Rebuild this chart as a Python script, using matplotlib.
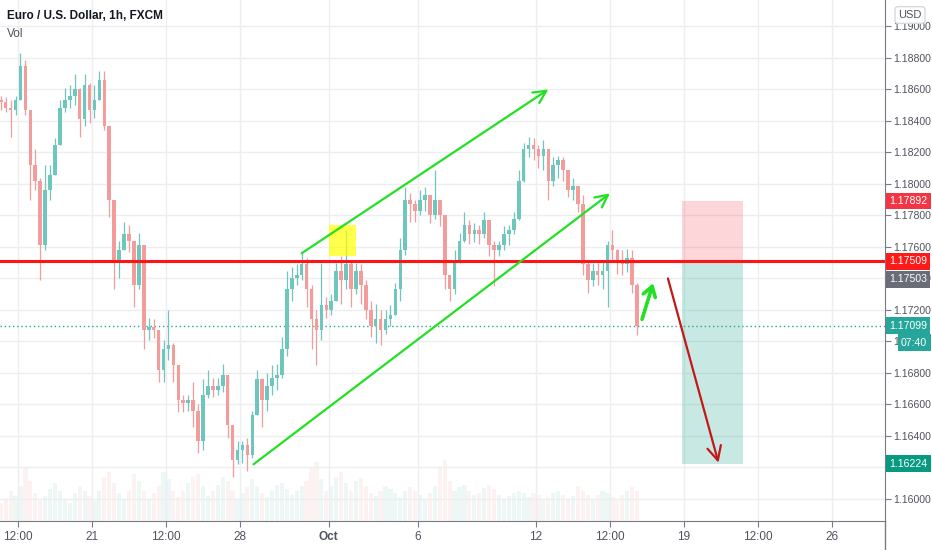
import numpy as np
import matplotlib.pyplot as plt
import matplotlib.transforms as mtransforms
from matplotlib.patches import Rectangle
from matplotlib.lines import Line2D
from matplotlib.ticker import FormatStrFormatter

plt.rcParams['font.family'] = ['Liberation Sans', 'DejaVu Sans']

# EUR/USD, velas de 4h leidas a ojo del grafico de 1h
# eje x en horas de mercado, hora 0 = lunes 21 sep 00:00
start_hour = -76
bar_hours = 4
first_open = 1.1853

highs = [1.1856, 1.1855, 1.1853, 1.1856, 1.1883, 1.1879, 1.1847, 1.1822, 1.1804, 1.1812,
         1.1812, 1.1829, 1.1853, 1.1861, 1.1863, 1.1870, 1.1861, 1.1870, 1.1864, 1.1863,
         1.1872, 1.1872, 1.1837, 1.1790, 1.1764, 1.1776, 1.1774, 1.1764, 1.1769, 1.1761,
         1.1715, 1.1714, 1.1707, 1.1701, 1.1720, 1.1699, 1.1685, 1.1666, 1.1666, 1.1674,
         1.1660, 1.1676, 1.1682, 1.1677, 1.1677, 1.1686, 1.1679, 1.1647, 1.1637, 1.1637,
         1.1639, 1.1656, 1.1682, 1.1677, 1.1680, 1.1685, 1.1686, 1.1703, 1.1745, 1.1747,
         1.1749, 1.1756, 1.1753, 1.1736, 1.1720, 1.1750, 1.1728, 1.1730, 1.1750, 1.1754,
         1.1771, 1.1752, 1.1750, 1.1749, 1.1739, 1.1726, 1.1724, 1.1720, 1.1720, 1.1723,
         1.1737, 1.1766, 1.1798, 1.1794, 1.1790, 1.1796, 1.1798, 1.1793, 1.1809, 1.1790,
         1.1780, 1.1742, 1.1758, 1.1769, 1.1782, 1.1777, 1.1775, 1.1774, 1.1782, 1.1777,
         1.1764, 1.1764, 1.1773, 1.1774, 1.1782, 1.1809, 1.1826, 1.1830, 1.1829, 1.1825,
         1.1828, 1.1822, 1.1817, 1.1818, 1.1817, 1.1809, 1.1804, 1.1799, 1.1793, 1.1752,
         1.1750, 1.1750, 1.1752, 1.1764, 1.1771, 1.1759, 1.1758, 1.1759, 1.1758, 1.1737]

lows = [1.1847, 1.1846, 1.1830, 1.1844, 1.1853, 1.1844, 1.1790, 1.1796, 1.1739, 1.1758,
        1.1790, 1.1806, 1.1825, 1.1846, 1.1848, 1.1850, 1.1830, 1.1837, 1.1839, 1.1842,
        1.1853, 1.1834, 1.1779, 1.1733, 1.1740, 1.1758, 1.1757, 1.1722, 1.1733, 1.1695,
        1.1701, 1.1702, 1.1674, 1.1674, 1.1688, 1.1674, 1.1655, 1.1655, 1.1656, 1.1646,
        1.1629, 1.1631, 1.1664, 1.1665, 1.1666, 1.1668, 1.1639, 1.1614, 1.1622, 1.1623,
        1.1618, 1.1626, 1.1653, 1.1646, 1.1656, 1.1666, 1.1669, 1.1677, 1.1691, 1.1726,
        1.1736, 1.1739, 1.1722, 1.1695, 1.1685, 1.1701, 1.1715, 1.1717, 1.1726, 1.1724,
        1.1733, 1.1722, 1.1730, 1.1724, 1.1714, 1.1703, 1.1699, 1.1698, 1.1705, 1.1710,
        1.1717, 1.1726, 1.1755, 1.1776, 1.1776, 1.1780, 1.1783, 1.1775, 1.1778, 1.1773,
        1.1733, 1.1726, 1.1730, 1.1750, 1.1763, 1.1762, 1.1763, 1.1762, 1.1766, 1.1754,
        1.1735, 1.1754, 1.1758, 1.1761, 1.1768, 1.1777, 1.1801, 1.1817, 1.1815, 1.1810,
        1.1809, 1.1790, 1.1799, 1.1804, 1.1802, 1.1792, 1.1790, 1.1782, 1.1742, 1.1731,
        1.1735, 1.1736, 1.1733, 1.1722, 1.1752, 1.1743, 1.1742, 1.1744, 1.1731, 1.1704]

closes = [1.1852, 1.1848, 1.1847, 1.1853, 1.1875, 1.1847, 1.1812, 1.1802, 1.1761, 1.1796,
          1.1806, 1.1825, 1.1848, 1.1853, 1.1856, 1.1860, 1.1841, 1.1863, 1.1847, 1.1853,
          1.1866, 1.1837, 1.1790, 1.1752, 1.1758, 1.1768, 1.1764, 1.1736, 1.1761, 1.1707,
          1.1709, 1.1707, 1.1682, 1.1695, 1.1698, 1.1685, 1.1663, 1.1661, 1.1663, 1.1656,
          1.1637, 1.1666, 1.1672, 1.1669, 1.1672, 1.1679, 1.1647, 1.1625, 1.1631, 1.1634,
          1.1628, 1.1653, 1.1676, 1.1663, 1.1672, 1.1677, 1.1679, 1.1695, 1.1733, 1.1740,
          1.1742, 1.1749, 1.1733, 1.1714, 1.1707, 1.1723, 1.1720, 1.1726, 1.1745, 1.1739,
          1.1749, 1.1733, 1.1745, 1.1736, 1.1720, 1.1710, 1.1714, 1.1707, 1.1714, 1.1717,
          1.1733, 1.1758, 1.1790, 1.1787, 1.1783, 1.1790, 1.1793, 1.1780, 1.1790, 1.1780,
          1.1742, 1.1733, 1.1752, 1.1764, 1.1774, 1.1768, 1.1771, 1.1768, 1.1777, 1.1761,
          1.1758, 1.1761, 1.1768, 1.1771, 1.1778, 1.1802, 1.1822, 1.1825, 1.1822, 1.1818,
          1.1822, 1.1802, 1.1812, 1.1815, 1.1809, 1.1796, 1.1799, 1.1787, 1.1749, 1.1739,
          1.1745, 1.1742, 1.1745, 1.1761, 1.1758, 1.1752, 1.1749, 1.1753, 1.1736, 1.1710]

volumes = [18, 22, 30, 25, 35, 55, 40, 28, 20, 25,
           32, 38, 30, 22, 18, 28, 35, 30, 25, 20,
           30, 45, 50, 38, 28, 22, 30, 48, 40, 30,
           22, 28, 35, 50, 42, 30, 24, 30, 38, 45,
           48, 35, 25, 30, 36, 45, 40, 30, 22, 28,
           34, 42, 35, 28, 24, 30, 36, 38, 32, 26,
           30, 35, 40, 55, 60, 42, 30, 35, 45, 50,
           38, 30, 40, 44, 35, 28, 25, 30, 35, 32,
           28, 24, 30, 34, 30, 26, 22, 28, 35, 55,
           62, 40, 30, 34, 36, 30, 26, 28, 33, 36,
           32, 26, 22, 25, 28, 30, 28, 24, 28, 26,
           22, 24, 28, 30, 26, 22, 25, 35, 30, 26,
           22, 26, 30, 28, 24, 22, 26, 30, 34, 30]

# ejes
price_ticks = [1.160, 1.162, 1.164, 1.166, 1.168, 1.170, 1.172, 1.174,
               1.176, 1.178, 1.180, 1.182, 1.184, 1.186, 1.188, 1.190]
time_ticks = [-60, 0, 60, 120, 192, 264, 360, 420, 480, 540, 600]
time_labels = ['12:00', '21', '12:00', '28', 'Oct', '6', '12', '12:00', '19', '12:00', '26']
x_range = (-74.6, 643.0)
y_range = (1.15860, 1.19168)

# niveles y dibujos (horas, precio)
resistance = 1.17509
entry = 1.17503
stop = 1.17892
target = 1.16224
last_price = 1.17099
countdown = '07:40'
upper_channel = [(170, 1.1756), (370, 1.1860)]
lower_channel = [(131, 1.1622), (420, 1.1794)]
small_arrow = [(446, 1.1714), (455, 1.1737)]
short_arrow = [(467, 1.1740), (508, 1.1623)]
yellow_box = [(192, 1.1754), (214, 1.1774)]
position_hours = (478, 528)

up_color = '#6fc6bc'
down_color = '#f29c9c'
green = '#22e022'
axis_font = 7.6

W, H = 932, 550
fig = plt.figure(figsize=(W / 100, H / 100), dpi=100)
fig.patch.set_facecolor('white')
pos = [0, 29 / H, 885 / W, 521 / H]

# volumen en un eje aparte, debajo
vax = fig.add_axes(pos, zorder=0)
ax = fig.add_axes(pos, zorder=1)
ax.patch.set_visible(False)

n = len(closes)
opens = np.array([first_open] + closes[:-1])
c = np.array(closes)
hi = np.maximum(np.array(highs), np.maximum(opens, c))
lo = np.minimum(np.array(lows), np.minimum(opens, c))
x = start_hour + bar_hours * np.arange(n) + bar_hours / 2
up = c >= opens
colors = np.where(up, up_color, down_color)

vax.bar(x, volumes, width=3.4, color=colors, alpha=0.13)
vax.set_xlim(x_range)
vax.set_ylim(0, max(volumes) * 8.5)
vax.axis('off')

ax.vlines(x, lo, hi, colors=colors, lw=0.9, zorder=2)
ax.bar(x, np.maximum(np.abs(c - opens), 0.00004), bottom=np.minimum(opens, c),
       width=2.9, color=colors, zorder=2)

ax.set_xlim(x_range)
ax.set_ylim(y_range)

# rejilla y ejes
ax.set_axisbelow(True)
ax.grid(True, color='#eceef2', lw=1)
ax.set_xticks(time_ticks)
ax.set_xticklabels(time_labels)
for lab in ax.get_xticklabels():
    if lab.get_text() == 'Oct':
        lab.set_fontweight('bold')
        lab.set_color('#131722')
ax.yaxis.tick_right()
ax.set_yticks(price_ticks)
ax.yaxis.set_major_formatter(FormatStrFormatter('%.5f'))
ax.tick_params(axis='x', length=4, color='#787b86', labelsize=8.5, labelcolor='#50535e', pad=3)
ax.tick_params(axis='y', length=4, color='#787b86', labelsize=axis_font, labelcolor='#50535e', pad=2)
for s in ['top', 'left']:
    ax.spines[s].set_visible(False)
for s in ['right', 'bottom']:
    ax.spines[s].set_color('#787b86')
fig.add_artist(Line2D([885 / W, 885 / W], [0, 29 / H], transform=fig.transFigure,
                      color='#787b86', lw=1))

# posicion corta
ax.add_patch(Rectangle((position_hours[0], entry), position_hours[1] - position_hours[0],
                       stop - entry, fc='#f23645', ec='none', alpha=0.2, zorder=1))
ax.add_patch(Rectangle((position_hours[0], target), position_hours[1] - position_hours[0],
                       entry - target, fc='#089981', ec='none', alpha=0.22, zorder=1))

# lineas de precio
ax.axhline(last_price, color='#26a69a', lw=1, ls=(0, (1, 2)), zorder=1.8)
ax.axhline(resistance, color='#ff1414', lw=2.2, zorder=4)

# caja amarilla
(bx0, by0), (bx1, by1) = yellow_box
ax.add_patch(Rectangle((bx0, by0), bx1 - bx0, by1 - by0, fc='#ffff00', ec='none',
                       alpha=0.7, zorder=5))

# canal y flechas
def arrow(pts, color, lw, head):
    ax.annotate('', xy=pts[1], xytext=pts[0],
                arrowprops=dict(arrowstyle=head, color=color, lw=lw,
                                shrinkA=0, shrinkB=0), zorder=6)

arrow(upper_channel, green, 1.6, '->,head_length=0.9,head_width=0.45')
arrow(lower_channel, green, 1.6, '->,head_length=0.9,head_width=0.45')
arrow(small_arrow, green, 2.6, '->,head_length=0.7,head_width=0.45')
arrow(short_arrow, '#c21818', 1.6, '->,head_length=1.0,head_width=0.5')

# etiquetas de precio a la derecha
tag_trans = mtransforms.blended_transform_factory(fig.transFigure, ax.transData)

def price_tag(price, text, color, dy=0, x_px=889):
    t = mtransforms.offset_copy(tag_trans, fig=fig, y=dy, units='dots')
    ax.text(x_px / W, price, text, transform=t, ha='left', va='center', fontsize=axis_font,
            color='white', clip_on=False, zorder=8,
            bbox=dict(boxstyle='square,pad=0.32', fc=color, ec='none'))

price_tag(stop, '%.5f' % stop, '#f23645')
price_tag(resistance, '%.5f' % resistance, '#ff1a1a')
price_tag(entry, '%.5f' % entry, '#6a6d78', dy=-17)
price_tag(last_price, '%.5f' % last_price, '#26a69a')
price_tag(last_price, countdown, '#26a69a', dy=-17, x_px=901)
price_tag(target, '%.5f' % target, '#089981')

fig.text(910 / W, 1 - 15 / H, 'USD', ha='center', va='center', fontsize=8, color='#50535e',
         bbox=dict(boxstyle='round,pad=0.3', fc='white', ec='#d6d9e0'))

fig.text(7 / W, 1 - 16 / H, 'Euro / U.S. Dollar, 1h, FXCM', ha='left', va='center',
         fontsize=8.5, fontweight='bold', color='#131722')
fig.text(7 / W, 1 - 34 / H, 'Vol', ha='left', va='center', fontsize=8.5, color='#50535e')

fig.savefig('out.png', dpi=100, facecolor='white')
